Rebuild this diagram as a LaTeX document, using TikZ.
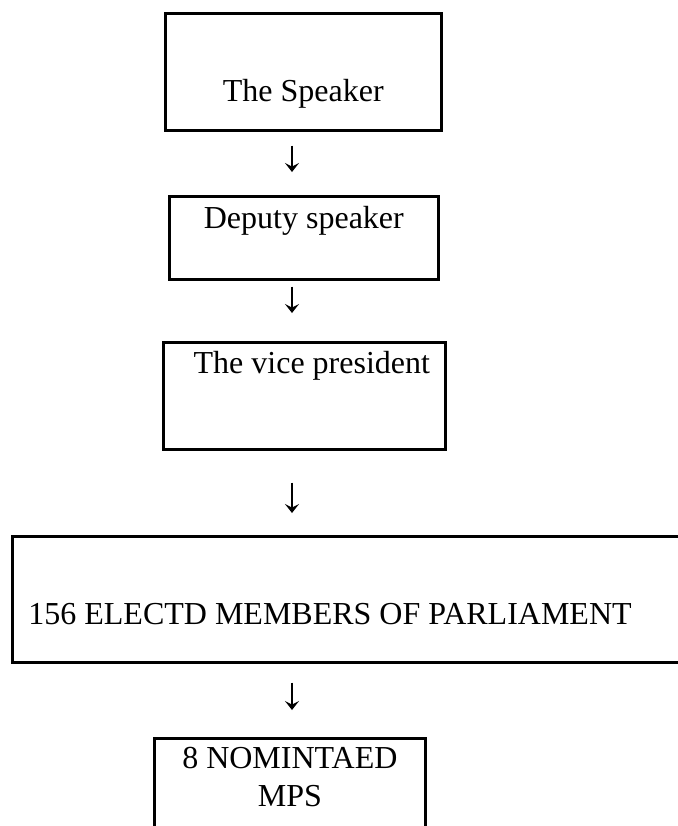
\documentclass[tikz,border=0pt]{standalone}
\usepackage{fontspec}
\setmainfont{Liberation Serif}
\usetikzlibrary{arrows.meta}

\begin{document}
\begin{tikzpicture}[x=0.5pt, y=-0.5pt,
		office/.style={draw, line width=1.35pt, inner sep=0pt, font=\fontsize{16}{19}\selectfont},
		flow/.style={line width=0.65pt, -{Stealth[length=4.5pt, width=7pt, inset=1.8pt]}}]
			%%%%% START %%%%%
			
			\useasboundingbox (0, 0) rectangle (678, 826);
			\clip (0, 0) rectangle (678, 826);
			
			\coordinate (col) at (292, 0);
			
			\node[office, anchor=north west, minimum width=138pt, text height=44pt, text depth=14.5pt] (speaker) at (164, 12) {The Speaker};
			\node[office, anchor=north west, minimum width=134.5pt, text height=16pt, text depth=25.5pt] (deputy) at (168, 195) {Deputy speaker};
			\node[office, anchor=north west, minimum width=141pt, text height=15.5pt, text depth=38pt] (vice) at (162, 341) {\hspace*{7.5pt}The vice president};
			\node[office, anchor=north west, inner xsep=8pt, text height=44pt, text depth=19pt] (elected) at (11, 535) {\makebox[330pt][l]{156 ELECTD MEMBERS OF PARLIAMENT}};
			\node[office, anchor=north west, minimum width=135.5pt, align=center, text height=34pt, text depth=40pt] (nominated) at (153, 737) {8 NOMINTAED\\MPS};
			
			\draw[flow, shorten <=7pt, shorten >=11.5pt] (speaker.south -| col) -- (deputy.north -| col);
			\draw[flow, shorten <=3pt, shorten >=14pt] (deputy.south -| col) -- (vice.north -| col);
			\draw[flow, shorten <=16pt, shorten >=11pt] (vice.south -| col) -- (elected.north -| col);
			\draw[flow, shorten <=9.5pt, shorten >=13.5pt] (elected.south -| col) -- (nominated.north -| col);
			
			%%%%% END %%%%%
		\end{tikzpicture}
\end{document}
